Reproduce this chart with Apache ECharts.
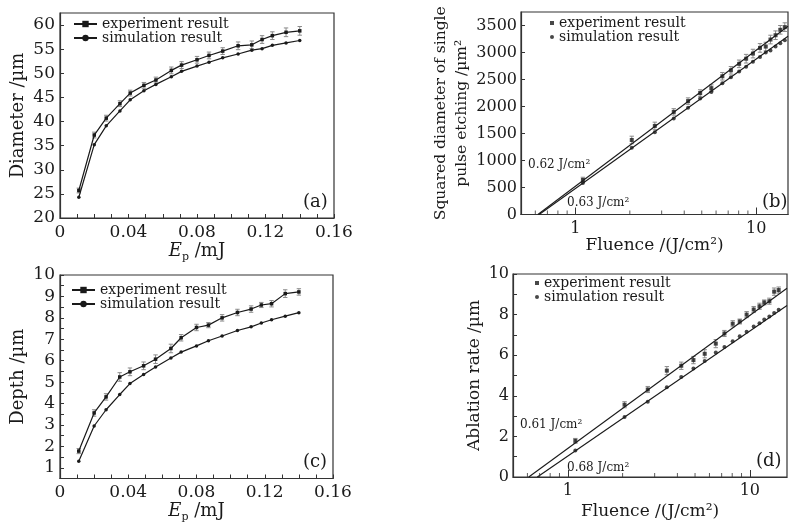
<!DOCTYPE html>
<html>
<head>
<meta charset="utf-8">
<script src="https://cdn.jsdelivr.net/npm/echarts@6/dist/echarts.min.js"></script>
<style>
  html, body { margin: 0; padding: 0; background: #fff; }
  #chart { width: 790px; height: 526px; }
</style>
</head>
<body>
<div id="chart"></div>
<script>
// pulse energy (mJ) for panels (a) and (c)
const energy = [0.011, 0.020, 0.027, 0.035, 0.041, 0.049, 0.056, 0.065, 0.071,
                0.080, 0.087, 0.095, 0.104, 0.112, 0.118, 0.124, 0.132, 0.140];
// (a) diameter / um
const diaExp = [25.7, 37.2, 40.7, 43.7, 45.9, 47.5, 48.6, 50.6, 51.7,
                52.8, 53.7, 54.6, 55.7, 55.9, 57.0, 57.8, 58.5, 58.8];
const diaSim = [24.3, 35.2, 39.1, 42.2, 44.5, 46.4, 47.7, 49.3, 50.4,
                51.5, 52.3, 53.2, 54.0, 54.8, 55.1, 55.8, 56.3, 56.8];
const diaErr = [0.5, 0.6, 0.6, 0.6, 0.6, 0.6, 0.6, 0.7, 0.7,
                0.7, 0.7, 0.7, 0.8, 0.8, 0.8, 0.8, 0.9, 0.9];
// (c) depth / um
const depthExp = [1.78, 3.56, 4.31, 5.24, 5.48, 5.76, 6.07, 6.57, 7.07,
                  7.55, 7.66, 8.00, 8.25, 8.41, 8.60, 8.66, 9.13, 9.21];
const depthSim = [1.30, 2.95, 3.71, 4.42, 4.93, 5.35, 5.71, 6.13, 6.40,
                  6.69, 6.93, 7.15, 7.41, 7.58, 7.76, 7.91, 8.08, 8.24];
const depthErr = [0.12, 0.15, 0.15, 0.2, 0.18, 0.18, 0.2, 0.2, 0.15,
                  0.15, 0.12, 0.15, 0.15, 0.15, 0.12, 0.15, 0.18, 0.15];
// fluence (J/cm2) for panels (b) and (d)
const fluence = [1.1, 2.05, 2.75, 3.5, 4.2, 4.9, 5.65, 6.5, 7.25,
                 8.05, 8.8, 9.6, 10.5, 11.3, 12.0, 12.8, 13.6, 14.4];
// (b) squared diameter / um2
const sqExp = [640, 1380, 1640, 1900, 2100, 2250, 2340, 2560, 2670,
               2790, 2885, 2980, 3085, 3110, 3240, 3320, 3420, 3470];
const sqSim = [585, 1235, 1525, 1780, 1975, 2150, 2270, 2430, 2540,
               2650, 2735, 2830, 2915, 3000, 3035, 3110, 3170, 3225];
const sqErr = [50, 70, 70, 60, 60, 60, 60, 70, 70,
               70, 80, 80, 80, 80, 80, 80, 80, 80];
// (d) ablation rate / um (same measurements as depth)
const rateExp = depthExp;
const rateSim = depthSim;
const rateErr = depthErr;
// fitted lines: [fluence, value] end points
const fitBExp = [[0.62, 0], [15, 3485]];
const fitBSim = [[0.63, 0], [15, 3300]];
const fitDExp = [[0.61, 0], [16, 9.3]];
const fitDSim = [[0.68, 0], [16, 8.45]];
// minor ticks of the log axes
const logMinor = [0.6, 0.7, 0.8, 0.9, 2, 3, 4, 5, 6, 7, 8, 9];

const FONT = 'DejaVu Serif';
const INK = '#1a1a1a';

function zip(xs, ys) { return xs.map((x, i) => [x, ys[i]]); }
function errRows(xs, ys, es) { return xs.map((x, i) => [x, ys[i] - es[i], ys[i] + es[i]]); }

function errBars(params, api) {
  const x = api.value(0);
  const lo = api.coord([x, api.value(1)]);
  const hi = api.coord([x, api.value(2)]);
  const w = 2.2;
  const st = { stroke: '#8a8a8a', lineWidth: 1 };
  return {
    type: 'group',
    children: [
      { type: 'line', shape: { x1: lo[0], y1: lo[1], x2: hi[0], y2: hi[1] }, style: st },
      { type: 'line', shape: { x1: lo[0] - w, y1: lo[1], x2: lo[0] + w, y2: lo[1] }, style: st },
      { type: 'line', shape: { x1: hi[0] - w, y1: hi[1], x2: hi[0] + w, y2: hi[1] }, style: st }
    ]
  };
}

const tick = { show: true, inside: true, length: 4, lineStyle: { color: '#333' } };
const line = { show: true, lineStyle: { color: '#333', width: 1.2 } };

function labelStyle(size, margin) {
  return { fontFamily: FONT, fontSize: size, color: INK, margin: margin };
}

const epName = {
  name: '{i|E}{s|p} /mJ',
  nameLocation: 'middle',
  nameTextStyle: {
    fontFamily: FONT, fontSize: 18, color: INK,
    rich: {
      i: { fontFamily: FONT, fontSize: 18, fontStyle: 'italic', color: INK },
      s: { fontFamily: FONT, fontSize: 11, color: INK, padding: [12, 0, 0, 0] }
    }
  }
};

function energyAxis(gi, gap) {
  return Object.assign({
    type: 'value', gridIndex: gi, min: 0, max: 0.16, interval: 0.01,
    nameGap: gap,
    axisLine: line, axisTick: tick, splitLine: { show: false },
    axisLabel: Object.assign(labelStyle(17, 6), {
      formatter: v => {
        const k = v / 0.04;
        if (Math.abs(k - Math.round(k)) > 1e-6) return '';
        return v === 0 ? '0' : v.toFixed(2);
      }
    })
  }, epName);
}

function fluenceAxis(gi, max, gap) {
  return {
    type: 'log', gridIndex: gi, min: 0.5, max: max, logBase: 10,
    name: 'Fluence /(J/cm²)', nameLocation: 'middle', nameGap: gap,
    nameTextStyle: { fontFamily: FONT, fontSize: 17, color: INK },
    axisLine: line,
    axisTick: { show: true, inside: true, length: 7, lineStyle: { color: '#333' } },
    splitLine: { show: false },
    axisLabel: Object.assign(labelStyle(16, 6), {
      showMinLabel: false, showMaxLabel: false, formatter: v => String(v)
    })
  };
}

function legendFor(names, left, top, lineIcon) {
  return {
    data: names, orient: 'vertical', left: left, top: top,
    itemWidth: lineIcon ? 23 : 4, itemHeight: lineIcon ? 8 : 4, itemGap: 0,
    padding: 0,
    formatter: n => n.indexOf('exp') === 0 ? 'experiment result' : 'simulation result',
    textStyle: { fontFamily: FONT, fontSize: 14, color: INK },
    selectedMode: false
  };
}

function lineSeries(name, xi, data, symbol) {
  return {
    name: name, type: 'line', xAxisIndex: xi, yAxisIndex: xi, data: data,
    symbol: symbol, symbolSize: 3.5, z: 3,
    lineStyle: { color: INK, width: 1.2 }, itemStyle: { color: INK }
  };
}

function dotSeries(name, xi, data, symbol) {
  return {
    name: name, type: 'scatter', xAxisIndex: xi, yAxisIndex: xi, data: data,
    symbol: symbol, symbolSize: 4, z: 3, itemStyle: { color: INK }
  };
}

function fitSeries(xi, data) {
  return {
    type: 'line', xAxisIndex: xi, yAxisIndex: xi, data: data, symbol: 'none',
    z: 2, lineStyle: { color: INK, width: 1.1 }
  };
}

function errSeries(xi, rows) {
  return {
    type: 'custom', xAxisIndex: xi, yAxisIndex: xi, data: rows,
    renderItem: errBars, encode: { x: 0, y: [1, 2] }, z: 1
  };
}

function minorTicks(xi) {
  return {
    type: 'scatter', xAxisIndex: xi, yAxisIndex: xi, silent: true,
    data: logMinor.map(v => [v, 0]),
    symbol: 'rect', symbolSize: [1, 4], symbolOffset: [0, -2],
    itemStyle: { color: '#333' }, z: 5
  };
}

function txt(text, x, y, size) {
  return {
    type: 'text', x: x, y: y,
    style: { text: text, fontFamily: FONT, fontSize: size, fill: INK, verticalAlign: 'middle' }
  };
}

const frame = { show: true, borderColor: '#333', borderWidth: 1.2 };

const option = {
  animation: false,
  backgroundColor: '#fff',
  grid: [
    Object.assign({ left: 60, top: 13, width: 274, height: 205 }, frame),
    Object.assign({ left: 521, top: 12, width: 267, height: 202.5 }, frame),
    Object.assign({ left: 60, top: 275, width: 273, height: 203.5 }, frame),
    Object.assign({ left: 513, top: 274, width: 274, height: 203 }, frame)
  ],
  xAxis: [
    energyAxis(0, 16),
    fluenceAxis(1, 15, 15),
    energyAxis(2, 17),
    fluenceAxis(3, 16, 26)
  ],
  yAxis: [
    {
      type: 'value', gridIndex: 0, min: 20, max: 62.5, interval: 5,
      name: 'Diameter /µm', nameLocation: 'middle', nameGap: 33,
      nameTextStyle: { fontFamily: FONT, fontSize: 18, color: INK },
      axisLine: line, axisTick: tick, splitLine: { show: false },
      axisLabel: Object.assign(labelStyle(17, 5), { showMaxLabel: false })
    },
    {
      type: 'value', gridIndex: 1, min: 0, max: 3750, interval: 500,
      name: 'Squared diameter of single\npulse etching /µm²', nameLocation: 'middle', nameGap: 49,
      nameTextStyle: { fontFamily: FONT, fontSize: 15.5, color: INK, lineHeight: 21 },
      axisLine: line, axisTick: tick, splitLine: { show: false },
      axisLabel: Object.assign(labelStyle(16, 4), { showMaxLabel: false, formatter: v => String(v) })
    },
    {
      type: 'value', gridIndex: 2, min: 0.5, max: 10, interval: 0.5,
      name: 'Depth /µm', nameLocation: 'middle', nameGap: 33,
      nameTextStyle: { fontFamily: FONT, fontSize: 18, color: INK },
      axisLine: line, axisTick: tick, splitLine: { show: false },
      axisLabel: Object.assign(labelStyle(17, 5), {
        formatter: v => (Math.abs(v - Math.round(v)) < 1e-6 ? String(Math.round(v)) : '')
      })
    },
    {
      type: 'value', gridIndex: 3, min: 0, max: 10, interval: 1,
      name: 'Ablation rate /µm', nameLocation: 'middle', nameGap: 30,
      nameTextStyle: { fontFamily: FONT, fontSize: 17, color: INK },
      axisLine: line, axisTick: tick, splitLine: { show: false },
      axisLabel: Object.assign(labelStyle(16, 4), {
        formatter: v => (v % 2 === 0 ? String(v) : '')
      })
    }
  ],
  legend: [
    legendFor(['expA', 'simA'], 73, 17, true),
    legendFor(['expB', 'simB'], 550, 16, false),
    legendFor(['expC', 'simC'], 71, 283, true),
    legendFor(['expD', 'simD'], 535, 276, false)
  ],
  series: [
    errSeries(0, errRows(energy, diaExp, diaErr)),
    lineSeries('expA', 0, zip(energy, diaExp), 'rect'),
    lineSeries('simA', 0, zip(energy, diaSim), 'circle'),

    errSeries(1, errRows(fluence, sqExp, sqErr)),
    fitSeries(1, fitBExp),
    fitSeries(1, fitBSim),
    dotSeries('expB', 1, zip(fluence, sqExp), 'rect'),
    dotSeries('simB', 1, zip(fluence, sqSim), 'circle'),
    minorTicks(1),

    errSeries(2, errRows(energy, depthExp, depthErr)),
    lineSeries('expC', 2, zip(energy, depthExp), 'rect'),
    lineSeries('simC', 2, zip(energy, depthSim), 'circle'),

    errSeries(3, errRows(fluence, rateExp, rateErr)),
    fitSeries(3, fitDExp),
    fitSeries(3, fitDSim),
    dotSeries('expD', 3, zip(fluence, rateExp), 'rect'),
    dotSeries('simD', 3, zip(fluence, rateSim), 'circle'),
    minorTicks(3)
  ],
  graphic: [
    txt('(a)', 303, 202, 18),
    txt('(b)', 762, 202, 18),
    txt('(c)', 303, 462, 18),
    txt('(d)', 756, 461, 18),
    txt('0.62 J/cm²', 528, 165, 12),
    txt('0.63 J/cm²', 567, 203, 12),
    txt('0.61 J/cm²', 520, 425, 12),
    txt('0.68 J/cm²', 567, 468, 12)
  ]
};

const chart = echarts.init(document.getElementById('chart'), null, { renderer: 'canvas' });
chart.setOption(option);
</script>
</body>
</html>
